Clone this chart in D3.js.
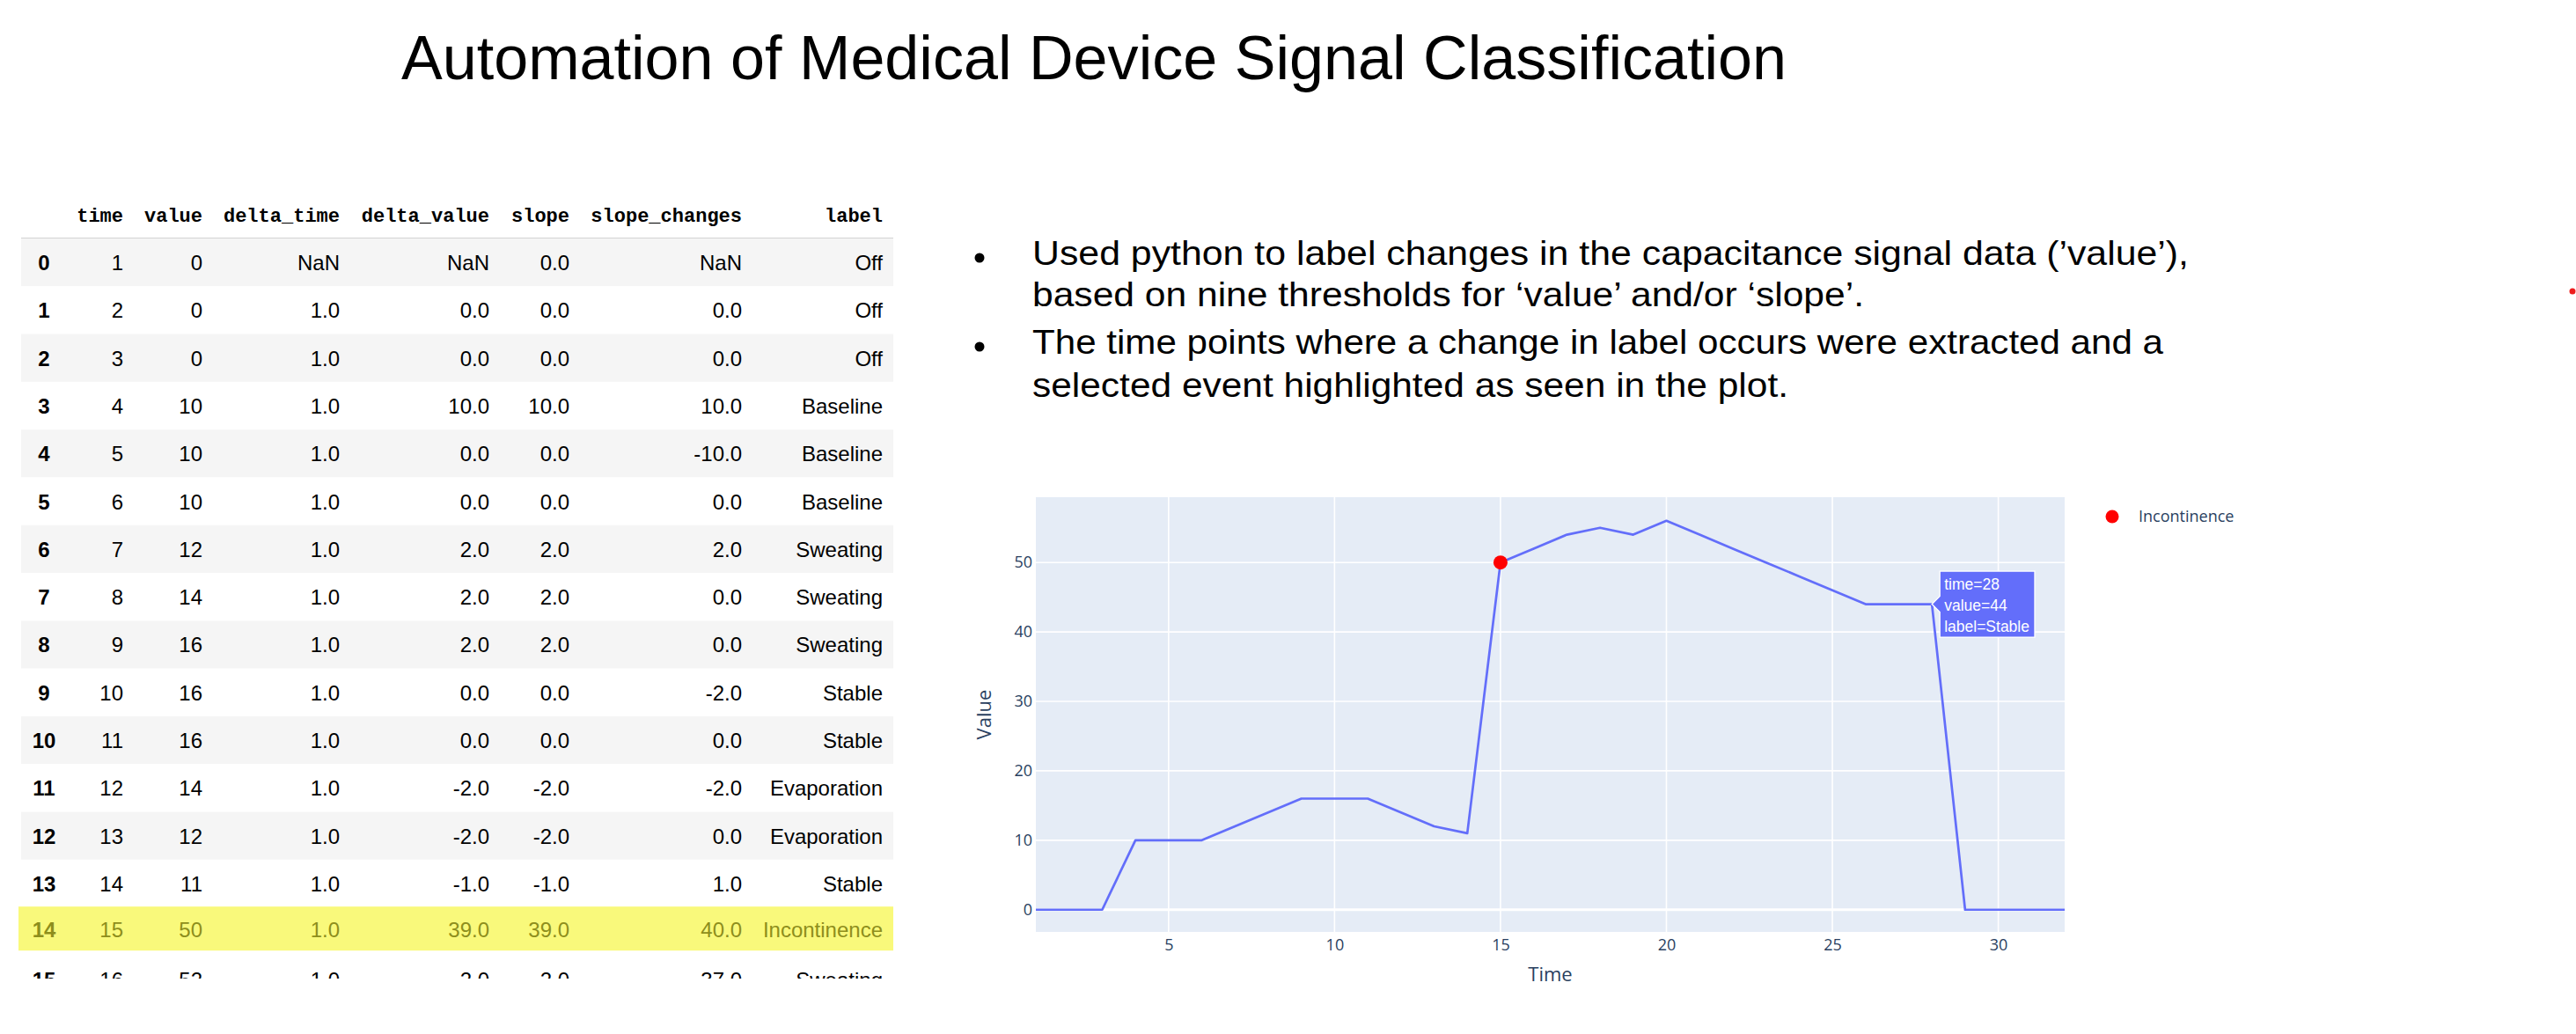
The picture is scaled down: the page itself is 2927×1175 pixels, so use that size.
<!DOCTYPE html>
<html>
<head>
<meta charset="utf-8">
<script src="https://cdn.jsdelivr.net/npm/d3@7"></script>
<style>
  html, body { margin: 0; padding: 0; background: #fff; }
  svg { display: block; }
</style>
</head>
<body>
<svg id="slide" width="2927" height="1175"></svg>
<script>
// ---------- table data (pandas dataframe head) ----------
var rowIndex    = [0, 1, 2, 3, 4, 5, 6, 7, 8, 9, 10, 11, 12, 13, 14, 15];
var tTime       = [1, 2, 3, 4, 5, 6, 7, 8, 9, 10, 11, 12, 13, 14, 15, 16];
var tValue      = [0, 0, 0, 10, 10, 10, 12, 14, 16, 16, 16, 14, 12, 11, 50, 52];
var deltaTime   = [null, 1, 1, 1, 1, 1, 1, 1, 1, 1, 1, 1, 1, 1, 1, 1];
var deltaValue  = [null, 0, 0, 10, 0, 0, 2, 2, 2, 0, 0, -2, -2, -1, 39, 2];
var slope       = [0, 0, 0, 10, 0, 0, 2, 2, 2, 0, 0, -2, -2, -1, 39, 2];
var slopeChange = [null, 0, 0, 10, -10, 0, 2, 0, 0, -2, 0, -2, 0, 1, 40, -37];
var labels      = ["Off", "Off", "Off", "Baseline", "Baseline", "Baseline", "Sweating", "Sweating",
                   "Sweating", "Stable", "Stable", "Evaporation", "Evaporation", "Stable", "Incontinence", "Sweating"];
var highlightRow = 14;

// ---------- signal series for the plot ----------
var sigTime  = [1, 2, 3, 4, 5, 6, 7, 8, 9, 10, 11, 12, 13, 14, 15, 16, 17, 18, 19, 20, 21, 22, 23, 24, 25, 26, 27, 28, 29, 30, 31, 32];
var sigValue = [0, 0, 0, 10, 10, 10, 12, 14, 16, 16, 16, 14, 12, 11, 50, 52, 54, 55, 54, 56, 54, 52, 50, 48, 46, 44, 44, 44, 0, 0, 0, 0];
var eventTime = [15];
var eventValue = [50];
var eventName = "Incontinence";
var hoverPoint = {time: 28, value: 44, label: "Stable"};
var xTicks = [5, 10, 15, 20, 25, 30];
var yTicks = [0, 10, 20, 30, 40, 50];

var titleText = "Automation of Medical Device Signal Classification";
var bulletLines = [
  "Used python to label changes in the capacitance signal data (\u2019value\u2019),",
  "based on nine thresholds for \u2018value\u2019 and/or \u2018slope\u2019.",
  "The time points where a change in label occurs were extracted and a",
  "selected event highlighted as seen in the plot."
];

var svg = d3.select("#slide");
var SANS = "'Liberation Sans', Arial, sans-serif";
var PLOTLY = "'Open Sans', 'DejaVu Sans', sans-serif";
var MONO = "'Liberation Mono', 'DejaVu Sans Mono', monospace";

// ================= title =================
svg.append("text")
  .attr("x", 456).attr("y", 90)
  .attr("font-family", SANS).attr("font-size", 70)
  .attr("textLength", 1574).attr("lengthAdjust", "spacingAndGlyphs")
  .attr("fill", "#000")
  .text(titleText);

// ================= bullets =================
var bulletBase = [301, 348, 402, 451];
var bulletEnd  = [2487, 2118, 2458, 2032];
var bullets = svg.append("g");
bullets.selectAll("text.line")
  .data(bulletLines)
  .enter().append("text")
  .attr("class", "line")
  .attr("x", 1173)
  .attr("y", function(d, i) { return bulletBase[i]; })
  .attr("font-family", SANS).attr("font-size", 39)
  .attr("textLength", function(d, i) { return bulletEnd[i] - 1173; })
  .attr("lengthAdjust", "spacingAndGlyphs")
  .attr("fill", "#000")
  .text(function(d) { return d; });
bullets.selectAll("circle")
  .data([0, 2])
  .enter().append("circle")
  .attr("cx", 1113)
  .attr("cy", function(i) { return bulletBase[i] - 8; })
  .attr("r", 5.5)
  .attr("fill", "#000");

// ================= table =================
var fmt1 = function(v) { return v == null ? "NaN" : v.toFixed(1); };
var rows = rowIndex.map(function(r, i) {
  return [r, tTime[i], tValue[i], fmt1(deltaTime[i]), fmt1(deltaValue[i]),
          fmt1(slope[i]), fmt1(slopeChange[i]), labels[i]];
});
var headers = ["", "time", "value", "delta_time", "delta_value", "slope", "slope_changes", "label"];
var colRight = [50, 140, 230, 386, 556, 647, 843, 1003];
var rowTop = 271, rowH = 54.3;

svg.append("defs").append("clipPath").attr("id", "tableClip")
  .append("rect").attr("x", 0).attr("y", 200).attr("width", 1040).attr("height", 912);

var table = svg.append("g").attr("clip-path", "url(#tableClip)");

table.selectAll("text.hdr")
  .data(headers)
  .enter().append("text")
  .attr("class", "hdr")
  .attr("x", function(d, i) { return colRight[i]; })
  .attr("y", 252)
  .attr("text-anchor", "end")
  .attr("font-family", MONO).attr("font-weight", "bold").attr("font-size", 22)
  .attr("fill", "#000")
  .text(function(d) { return d; });

table.append("line")
  .attr("x1", 24).attr("x2", 1015).attr("y1", rowTop).attr("y2", rowTop)
  .attr("stroke", "#d4d4d4").attr("stroke-width", 2);

var rowG = table.selectAll("g.row")
  .data(rows)
  .enter().append("g")
  .attr("class", "row")
  .attr("transform", function(d, i) { return "translate(0," + (rowTop + i * rowH) + ")"; });

rowG.append("rect")
  .attr("x", function(d, i) { return i == highlightRow ? 21 : 24; })
  .attr("y", function(d, i) { return i == highlightRow ? -1 : 0; })
  .attr("width", function(d, i) { return i == highlightRow ? 994 : 991; })
  .attr("height", function(d, i) { return i == highlightRow ? 50 : rowH; })
  .attr("fill", function(d, i) {
    if (i == highlightRow) return "#f9f97b";
    return i % 2 == 0 ? "#f5f5f5" : "#ffffff";
  });

rowG.each(function(row, ri) {
  var g = d3.select(this);
  var col = ri == highlightRow ? "#8e8e1c" : "#000";
  g.selectAll("text")
    .data(row)
    .enter().append("text")
    .attr("x", function(d, i) { return colRight[i]; })
    .attr("y", ri == highlightRow ? 34 : 36)
    .attr("text-anchor", function(d, i) { return i == 0 ? "middle" : "end"; })
    .attr("font-family", SANS)
    .attr("font-weight", function(d, i) { return i == 0 ? "bold" : "normal"; })
    .attr("font-size", 24)
    .attr("fill", col)
    .text(function(d) { return d; });
});

// ================= plotly-style chart =================
var pl = 1177, pr = 2346, pt = 565, pb = 1059;
var x = d3.scaleLinear().domain([1, 32]).range([pl, pr]);
var y = d3.scaleLinear().domain([-3.2, 59.4]).range([pb, pt]);

var chart = svg.append("g");
chart.append("rect")
  .attr("x", pl).attr("y", pt).attr("width", pr - pl).attr("height", pb - pt)
  .attr("fill", "#e5ecf6");

// gridlines
chart.selectAll("line.vg")
  .data(xTicks)
  .enter().append("line")
  .attr("class", "vg")
  .attr("x1", function(d) { return x(d); }).attr("x2", function(d) { return x(d); })
  .attr("y1", pt).attr("y2", pb)
  .attr("stroke", "#fff").attr("stroke-width", 1.6);
chart.selectAll("line.hg")
  .data(yTicks)
  .enter().append("line")
  .attr("class", "hg")
  .attr("x1", pl).attr("x2", pr)
  .attr("y1", function(d) { return y(d); }).attr("y2", function(d) { return y(d); })
  .attr("stroke", "#fff")
  .attr("stroke-width", function(d) { return d == 0 ? 3 : 1.6; });

// axes via d3 axis, then restyle like plotly
var xAxis = chart.append("g")
  .attr("transform", "translate(0," + pb + ")")
  .call(d3.axisBottom(x).tickValues(xTicks).tickSize(0).tickPadding(8));
var yAxis = chart.append("g")
  .attr("transform", "translate(" + pl + ",0)")
  .call(d3.axisLeft(y).tickValues(yTicks).tickSize(0).tickPadding(4));
[xAxis, yAxis].forEach(function(a) {
  a.select(".domain").remove();
  a.selectAll("text")
    .attr("font-family", PLOTLY).attr("font-size", 18)
    .attr("fill", "#2a3f5f");
});

chart.append("text")
  .attr("x", (pl + pr) / 2).attr("y", 1115)
  .attr("text-anchor", "middle")
  .attr("font-family", PLOTLY).attr("font-size", 22).attr("fill", "#2a3f5f")
  .text("Time");
chart.append("text")
  .attr("transform", "translate(1126," + ((pt + pb) / 2) + ") rotate(-90)")
  .attr("text-anchor", "middle")
  .attr("font-family", PLOTLY).attr("font-size", 22).attr("fill", "#2a3f5f")
  .text("Value");

// signal line
var line = d3.line()
  .x(function(d) { return x(d[0]); })
  .y(function(d) { return y(d[1]); });
chart.append("path")
  .datum(sigTime.map(function(t, i) { return [t, sigValue[i]]; }))
  .attr("d", line)
  .attr("fill", "none")
  .attr("stroke", "#636efa")
  .attr("stroke-width", 2.7)
  .attr("stroke-linejoin", "round");

// highlighted event
chart.selectAll("circle.evt")
  .data(eventTime)
  .enter().append("circle")
  .attr("class", "evt")
  .attr("cx", function(d) { return x(d); })
  .attr("cy", function(d, i) { return y(eventValue[i]); })
  .attr("r", 8)
  .attr("fill", "#ff0000");

// hover label
var hx = x(hoverPoint.time), hy = y(hoverPoint.value);
var hover = chart.append("g").attr("transform", "translate(" + hx + "," + hy + ")");
var hoverBox = hover.append("path")
  .attr("fill", "#636efa").attr("stroke", "#fff").attr("stroke-width", 1.3);
var hoverLines = ["time=" + hoverPoint.time, "value=" + hoverPoint.value, "label=" + hoverPoint.label];
var ht = hover.selectAll("text")
  .data(hoverLines)
  .enter().append("text")
  .attr("x", 14)
  .attr("y", function(d, i) { return -17 + i * 24; })
  .attr("font-family", SANS).attr("font-size", 17.5)
  .attr("fill", "#fff")
  .text(function(d) { return d; });
var tw = 0;
ht.each(function() { tw = Math.max(tw, this.getComputedTextLength()); });
var bw = 14 + tw + 6, bh = 37.5;
hoverBox.attr("d", "M0,0L9,-9V" + (-bh) + "H" + bw + "V" + bh + "H9V9Z");

// legend
var legend = svg.append("g").attr("transform", "translate(2400,587)");
legend.append("circle").attr("r", 7.5).attr("fill", "#ff0000");
legend.append("text")
  .attr("x", 30).attr("y", 6)
  .attr("font-family", PLOTLY).attr("font-size", 18).attr("fill", "#2a3f5f")
  .text(eventName);

// stray red dot at the slide edge
svg.append("circle").attr("cx", 2923).attr("cy", 331).attr("r", 3.5).attr("fill", "#ee1c1c");
</script>
</body>
</html>
